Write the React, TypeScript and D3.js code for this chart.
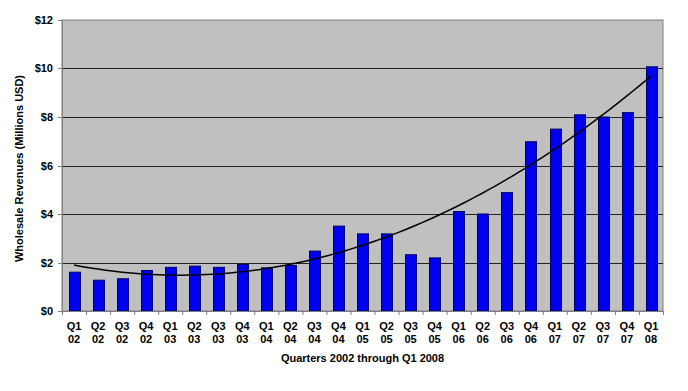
import * as d3 from 'd3';

const quarters = ['Q1', 'Q2', 'Q3', 'Q4', 'Q1', 'Q2', 'Q3', 'Q4', 'Q1', 'Q2', 'Q3', 'Q4', 'Q1', 'Q2', 'Q3', 'Q4', 'Q1', 'Q2', 'Q3', 'Q4', 'Q1', 'Q2', 'Q3', 'Q4', 'Q1'];
const years = ['02', '02', '02', '02', '03', '03', '03', '03', '04', '04', '04', '04', '05', '05', '05', '05', '06', '06', '06', '06', '07', '07', '07', '07', '08'];
const revenues = [1.6, 1.27, 1.33, 1.67, 1.8, 1.85, 1.8, 1.92, 1.78, 1.88, 2.47, 3.5, 3.18, 3.18, 2.32, 2.19, 4.1, 4.0, 4.88, 6.98, 7.5, 8.09, 8.0, 8.18, 10.07];
const yTicks = [0, 2, 4, 6, 8, 10, 12];

// least squares quadratic trendline, like Excel's polynomial (order 2)
function quadFit(ys: number[]) {
    const n = ys.length;
    const xs = ys.map((_, i) => i + 1);
    const s = (f: (x: number, y: number) => number) => d3.sum(xs, (x, i) => f(x, ys[i]));
    const S0 = n, S1 = s(x => x), S2 = s(x => x * x), S3 = s(x => x ** 3), S4 = s(x => x ** 4);
    const T0 = s((_, y) => y), T1 = s((x, y) => x * y), T2 = s((x, y) => x * x * y);
    const M = [[S4, S3, S2, T2], [S3, S2, S1, T1], [S2, S1, S0, T0]];
    for (let i = 0; i < 3; i++) {
        for (let k = i + 1; k < 3; k++) {
            const f = M[k][i] / M[i][i];
            for (let j = i; j < 4; j++) M[k][j] -= f * M[i][j];
        }
    }
    const c = [0, 0, 0];
    for (let i = 2; i >= 0; i--) {
        let v = M[i][3];
        for (let j = i + 1; j < 3; j++) v -= M[i][j] * c[j];
        c[i] = v / M[i][i];
    }
    return (x: number) => c[0] * x * x + c[1] * x + c[2];
}

export default function App() {
    const width = 688, height = 391;
    const margin = { top: 20, right: 25, bottom: 80, left: 62 };
    const w = width - margin.left - margin.right;
    const h = height - margin.top - margin.bottom;
    const idx = revenues.map((_, i) => i);

    const x = d3.scaleBand<number>().domain(idx).range([0, w]).paddingInner(0.56).paddingOuter(0.28);
    const y = d3.scaleLinear().domain([0, 12]).range([h, 0]);
    const fit = quadFit(revenues);
    const step = x.step();
    // sample the fitted curve between first and last bar centres
    const fine = d3.range(0, revenues.length - 1 + 0.001, 0.25);
    const fineLine = d3.line<number>()
        .x(t => step * (t + 0.5))
        .y(t => y(fit(t + 1)));
    const font = "'Liberation Sans', Arial, sans-serif";

    return (
        <svg width={width} height={height} style={{ position: 'absolute', left: 0, top: 0 }} fontFamily={font} fontWeight="bold">
            <g transform={`translate(${margin.left},${margin.top})`}>
                <rect x={0} y={0} width={w} height={h} fill="#c0c0c0" stroke="#808080" strokeWidth={1} />
                {yTicks.slice(1, -1).map(t => (
                    <line key={t} x1={0} x2={w} y1={Math.round(y(t)) + 0.5} y2={Math.round(y(t)) + 0.5} stroke="#222" strokeWidth={1} />
                ))}
                {revenues.map((v, i) => (
                    <rect key={i} x={Math.round(x(i) ?? 0) + 0.5} y={y(v)} width={Math.round(x.bandwidth())} height={h - y(v)}
                        fill="#0000f0" stroke="#000060" strokeWidth={1} />
                ))}
                <path d={fineLine(fine) ?? ''} fill="none" stroke="#000" strokeWidth={1.5} />
                <line x1={0.5} x2={0.5} y1={0} y2={h} stroke="#808080" />
                <line x1={0} x2={w} y1={h + 0.5} y2={h + 0.5} stroke="#808080" />
                {yTicks.map(t => (
                    <g key={t} transform={`translate(0,${Math.round(y(t)) + 0.5})`}>
                        <line x1={-4} x2={0} stroke="#808080" />
                        <text x={-9} dy="0.35em" textAnchor="end" fontSize={11} fill="#000">${t}</text>
                    </g>
                ))}
                {d3.range(revenues.length + 1).map(i => (
                    <line key={i} x1={i * step + 0.5} x2={i * step + 0.5} y1={h} y2={h + 4} stroke="#808080" />
                ))}
                {revenues.map((_, i) => (
                    <text key={i} x={(x(i) ?? 0) + x.bandwidth() / 2} y={h + 19} textAnchor="middle" fontSize={11} fill="#000">
                        <tspan x={(x(i) ?? 0) + x.bandwidth() / 2}>{quarters[i]}</tspan>
                        <tspan x={(x(i) ?? 0) + x.bandwidth() / 2} dy={13}>{years[i]}</tspan>
                    </text>
                ))}
                <text x={w / 2} y={h + 51} textAnchor="middle" fontSize={11} fill="#000">Quarters 2002 through Q1 2008</text>
                <text transform={`translate(-39,${h / 2 + 3}) rotate(-90)`} textAnchor="middle" fontSize={11} fill="#000">Wholesale Revenues (Millions USD)</text>
            </g>
        </svg>
    );
}
